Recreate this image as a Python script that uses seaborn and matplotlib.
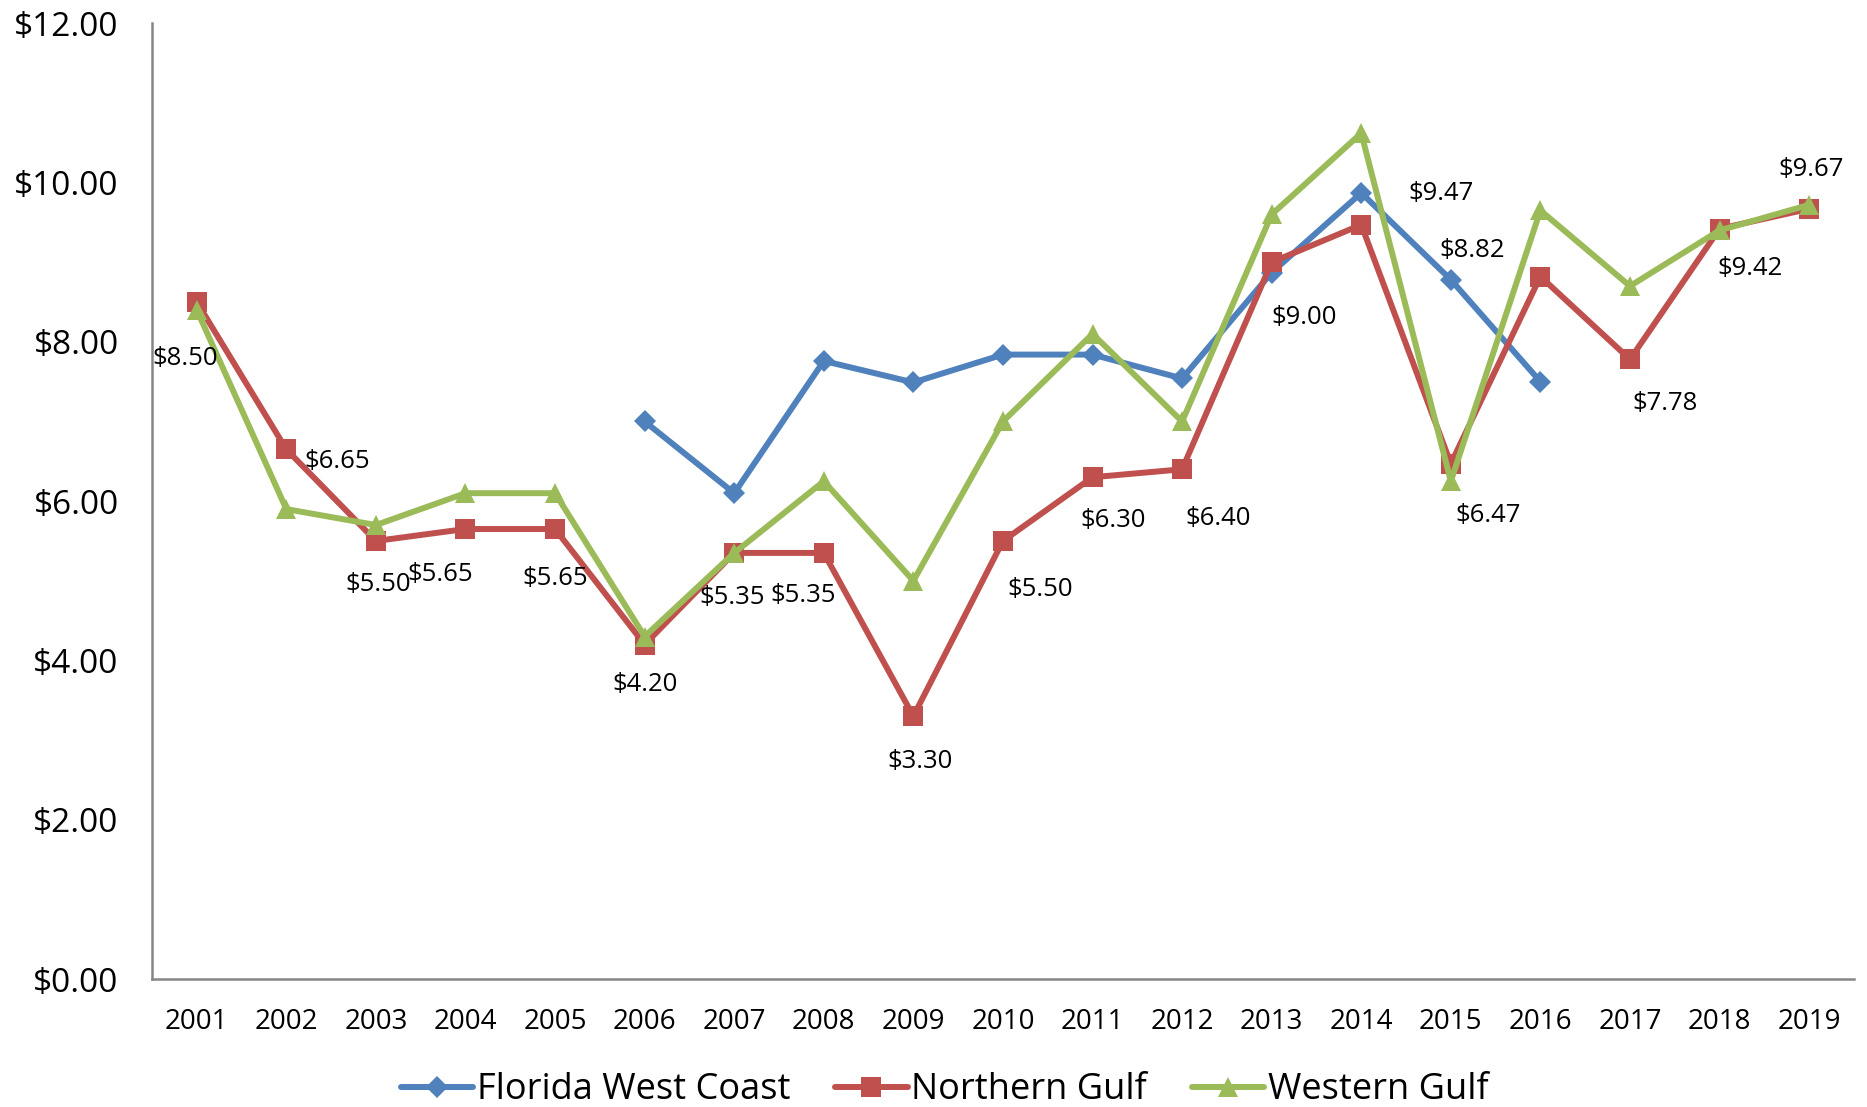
import matplotlib
matplotlib.use('Agg')
import matplotlib.pyplot as plt
import seaborn as sns
import pandas as pd
import numpy as np

# chart values
years = list(range(2001, 2020))
florida_west_coast = [np.nan, np.nan, np.nan, np.nan, np.nan, 7.00, 6.10, 7.76, 7.49, 7.84,
                      7.84, 7.54, 8.87, 9.87, 8.78, 7.50, np.nan, np.nan, np.nan]
northern_gulf = [8.50, 6.65, 5.50, 5.65, 5.65, 4.20, 5.35, 5.35, 3.30, 5.50,
                 6.30, 6.40, 9.00, 9.47, 6.47, 8.82, 7.78, 9.42, 9.67]
western_gulf = [8.40, 5.90, 5.70, 6.10, 6.10, 4.30, 5.35, 6.25, 5.00, 7.00,
                8.10, 7.00, 9.60, 10.62, 6.25, 9.65, 8.70, 9.40, 9.72]
series_names = ['Florida West Coast', 'Northern Gulf', 'Western Gulf']

# label placement (pixel offsets from the Northern Gulf points)
label_offsets = [(-12, -56), (51, -12), (2, -44), (-25, -45), (0, -49), (0, -40),
                 (-2, -45), (-21, -43), (7, -45), (37, -49), (21, -43), (36, -49),
                 (32, -55), (80, 31), (37, -52), (-68, 26), (35, -44), (30, -40), (2, 39)]

df = pd.DataFrame({'year': years * 3,
                   'price': florida_west_coast + northern_gulf + western_gulf,
                   'region': [n for n in series_names for _ in years]})

sns.set_style('white')
plt.rcParams['font.family'] = ['Open Sans', 'DejaVu Sans']
plt.rcParams['text.color'] = 'black'
plt.rcParams['xtick.color'] = 'black'
plt.rcParams['ytick.color'] = 'black'

colors = {'Florida West Coast': '#4F81BD', 'Northern Gulf': '#C0504D', 'Western Gulf': '#9BBB59'}
markers = {'Florida West Coast': 'D', 'Northern Gulf': 's', 'Western Gulf': '^'}
msizes = {'Florida West Coast': 11.5, 'Northern Gulf': 14, 'Western Gulf': 15}

fig = plt.figure(figsize=(18.67, 11.07), dpi=100)
ax = fig.add_axes([0.0814, 0.1156, 0.9116, 0.8634])

for name in series_names:
    sns.lineplot(data=df[df['region'] == name], x='year', y='price', ax=ax,
                 color=colors[name], marker=markers[name], markersize=msizes[name],
                 markeredgewidth=0, linewidth=4.3, label=name)

for yr, val, (dx, dy) in zip(years, northern_gulf, label_offsets):
    ax.annotate(f'${val:.2f}', (yr, val), xytext=(dx, dy), textcoords='offset pixels',
                ha='center', va='center', fontsize=18.5, color='black')

ax.set_xlim(2000.5, 2019.5)
ax.set_ylim(0, 12)
ax.set_xticks(years)
ax.set_xticklabels([str(y) for y in years], fontsize=20)
ax.set_yticks(np.arange(0, 13, 2))
ax.set_yticklabels([f'${v:.2f}' for v in np.arange(0, 13, 2)], fontsize=24)
ax.tick_params(axis='x', length=0, pad=21)
ax.tick_params(axis='y', length=0, pad=24)
ax.set_xlabel('')
ax.set_ylabel('')
for side in ['top', 'right']:
    ax.spines[side].set_visible(False)
for side in ['left', 'bottom']:
    ax.spines[side].set_color('#868686')
    ax.spines[side].set_linewidth(1.8)

handles, labels = ax.get_legend_handles_labels()
ax.legend().remove()
fig.legend(handles, labels, loc='center', bbox_to_anchor=(0.506, 0.015), ncol=3,
           frameon=False, fontsize=26, handlelength=2.0, columnspacing=1.25, handletextpad=0.1)

fig.savefig('out.png', dpi=100)
